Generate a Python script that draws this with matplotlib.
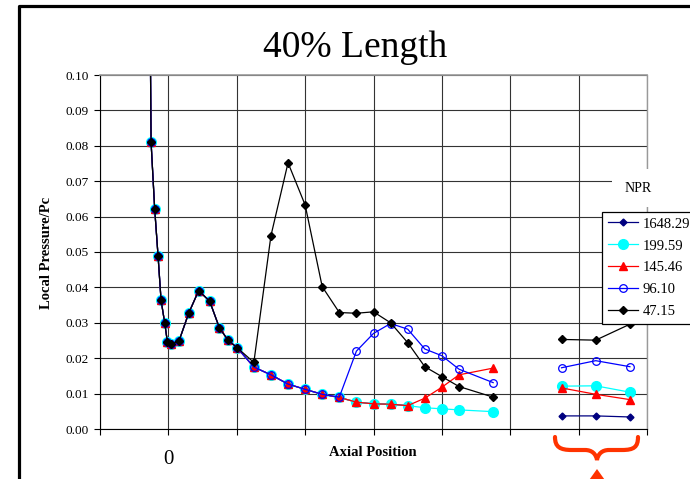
import numpy as np
import matplotlib
matplotlib.use("Agg")
import matplotlib.pyplot as plt
from matplotlib.lines import Line2D
from matplotlib.path import Path
from matplotlib.patches import PathPatch, Polygon

plt.rcParams["font.family"] = ["Liberation Serif", "DejaVu Serif"]

# axial positions (grid units), main section
x_main = [-0.285, -0.253, -0.20, -0.151, -0.107, -0.054, -0.015, 0.039, 0.156,
          0.297, 0.443, 0.604, 0.746, 0.872, 1.004, 1.25, 1.50, 1.75, 2.0,
          2.25, 2.5, 2.75, 3.0, 3.25, 3.5, 3.75, 4.0, 4.25, 4.75]

# shared upstream values (first 15 points)
common = [0.16, 0.081, 0.0621, 0.0489, 0.0364, 0.030, 0.0247, 0.0239, 0.0249,
          0.0327, 0.0391, 0.0361, 0.0286, 0.0251, 0.0230]

npr_1648 = common + [0.0175, 0.0153, 0.0127, 0.0112, 0.0098, 0.0089, 0.0076,
                     0.0071, 0.0070, 0.0066]
npr_199 = common + [0.0175, 0.0153, 0.0127, 0.0112, 0.0098, 0.0089, 0.0076,
                    0.0071, 0.0070, 0.0066, 0.0060, 0.0057, 0.0054, 0.0049]
npr_145 = common + [0.0175, 0.0153, 0.0127, 0.0112, 0.0098, 0.0089, 0.0076,
                    0.0071, 0.0070, 0.0066, 0.0087, 0.0118, 0.0153, 0.0172]
npr_96 = common + [0.0175, 0.0153, 0.0127, 0.0112, 0.0098, 0.0090, 0.0220,
                   0.0270, 0.0298, 0.0282, 0.0226, 0.0207, 0.0169, 0.0131]
npr_47 = common + [0.0188, 0.0546, 0.0752, 0.0633, 0.0402, 0.0329, 0.0327,
                   0.0331, 0.0300, 0.0244, 0.0176, 0.0148, 0.0120, 0.0090]

# exit section (right group)
x_exit = [5.75, 6.25, 6.75]
exit_1648 = [0.0037, 0.0037, 0.0034]
exit_199 = [0.0121, 0.0122, 0.0104]
exit_145 = [0.0116, 0.0098, 0.0083]
exit_96 = [0.0173, 0.0193, 0.0176]
exit_47 = [0.0253, 0.0251, 0.0296]

labels = ["1648.29", "199.59", "145.46", "96.10", "47.15"]

W, H = 690, 479


def px(x, y):
    return (x / W, 1 - y / H)


fig = plt.figure(figsize=(6.9, 4.79), dpi=100)
ax = fig.add_axes([100 / W, 1 - 429 / H, 547 / W, 354 / H])

styles = [
    dict(color="#000080", marker="D", ms=3.5, mfc="#000080", mec="#000080"),
    dict(color="#00FFFF", marker="o", ms=7, mfc="#00FFFF", mec="#00FFFF"),
    dict(color="#FF0000", marker="^", ms=5.5, mfc="#FF0000", mec="#FF0000"),
    dict(color="#0000FF", marker="o", ms=5.5, mfc="none", mec="#0000FF", mew=0.9),
    dict(color="#000000", marker="D", ms=4, mfc="#000000", mec="#000000"),
]
mains = [npr_1648, npr_199, npr_145, npr_96, npr_47]
exits = [exit_1648, exit_199, exit_145, exit_96, exit_47]

handles = []
for ys, ye, st, lab in zip(mains, exits, styles, labels):
    h, = ax.plot(x_main[:len(ys)], ys, lw=0.9, label=lab, **st)
    ax.plot(x_exit, ye, lw=0.9, **st)
    handles.append(h)

ax.set_xlim(-1, 7)
ax.set_ylim(0, 0.10)
ax.set_xticks(np.arange(-1, 8))
ax.set_xticklabels([])
ax.set_yticks(np.arange(0, 0.101, 0.01))
ax.set_yticklabels(["%.2f" % v for v in np.arange(0, 0.101, 0.01)])
ax.tick_params(direction="out", length=4, width=0.8, labelsize=9.5, pad=4)
ax.grid(True, color="#333333", lw=0.8)
ax.set_axisbelow(True)
ax.spines["left"].set_color("black")
ax.spines["bottom"].set_color("black")
ax.spines["top"].set_color("#999999")
ax.spines["right"].set_color("#999999")
ax.spines["top"].set_linewidth(1.2)
ax.spines["right"].set_linewidth(1.0)

leg = ax.legend(handles=handles, loc="upper left",
                bbox_to_anchor=px(602, 211.5), bbox_transform=fig.transFigure,
                fontsize=10.5, frameon=True, fancybox=False, framealpha=1,
                edgecolor="black", handlelength=2.1, handletextpad=0.3,
                labelspacing=0.6, borderpad=0.4, borderaxespad=0)
leg.get_frame().set_linewidth(0.9)

fig.text(*px(638, 188), "NPR", fontsize=10, ha="center", va="center",
         bbox=dict(boxstyle="square,pad=0.9", fc="white", ec="none"))

fig.text(*px(355, 57), "40% Length", fontsize=27, ha="center", va="baseline")
fig.text(*px(46, 253), "Local Pressure/Pc", fontsize=10.5, fontweight="bold",
         rotation=90, ha="center", va="center")
fig.text(*px(373, 453), "Axial Position", fontsize=10.5, fontweight="bold",
         ha="center", va="center")
fig.text(*px(168, 460), "0", fontsize=15, ha="center", va="center")

# outer frame
fig.add_artist(Line2D([19 / W, 19 / W, 1], [0, 1 - 6 / H, 1 - 6 / H],
                      lw=2.3, color="black", transform=fig.transFigure))

# red brace under the exit section
brace = [(555, 437), (555, 447), (560, 450), (572, 450), (585, 450),
         (592, 450), (596, 454), (597, 460), (598, 454), (602, 450),
         (609, 450), (622, 450), (634, 450), (638, 447), (638, 437)]
codes = [Path.MOVETO, Path.CURVE4, Path.CURVE4, Path.CURVE4, Path.LINETO,
         Path.CURVE4, Path.CURVE4, Path.CURVE4, Path.CURVE4, Path.CURVE4,
         Path.CURVE4, Path.LINETO, Path.CURVE4, Path.CURVE4, Path.CURVE4]
fig.add_artist(PathPatch(Path([px(*p) for p in brace], codes), fc="none",
                         ec="#FF3300", lw=3, capstyle="round",
                         transform=fig.transFigure))
fig.add_artist(Polygon([px(587, 483), px(597, 469), px(607, 483)],
                       closed=True, fc="#FF3300", ec="none",
                       transform=fig.transFigure))

fig.savefig("out.png", dpi=100)
